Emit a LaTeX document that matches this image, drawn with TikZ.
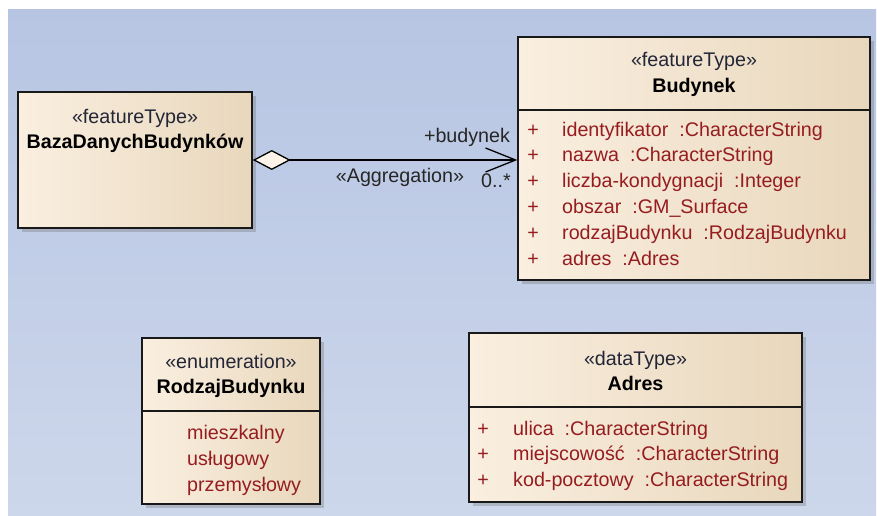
\documentclass[tikz,border=0pt]{standalone}
\usepackage{fontspec}
\setmainfont{Liberation Sans}
\usetikzlibrary{arrows.meta,shadows}

\definecolor{tlotop}{RGB}{183,197,227}
\definecolor{tlobot}{RGB}{205,215,235}
\definecolor{klasaL}{RGB}{250,239,224}
\definecolor{klasaM}{RGB}{252,244,232}
\definecolor{klasaR}{RGB}{232,215,188}
\definecolor{atrcol}{RGB}{150,28,32}
\definecolor{stereocol}{RGB}{35,38,55}
\newcommand\rozmiar{\fontsize{19.7}{23}\selectfont}

\tikzset{
  klasa/.style={draw=black!90, line width=1.5pt, inner sep=0pt,
    left color=klasaL, middle color=klasaM, right color=klasaR,
    drop shadow={shadow xshift=4pt, shadow yshift=-4pt, fill=black!60, opacity=0.3}},
  stereo/.style={anchor=base, text=stereocol, inner sep=0pt, font=\rozmiar},
  nazwa/.style={anchor=base, inner sep=0pt, font=\rozmiar\bfseries},
  atr/.style={anchor=base west, text=atrcol, inner sep=0pt, font=\rozmiar},
  plus/.style={anchor=base, text=atrcol, inner sep=0pt, font=\rozmiar},
  opis/.style={anchor=base, text=black!85, inner sep=0pt, font=\rozmiar},
  sep/.style={draw=black!90, line width=1.2pt},
  agregacja/.style={line width=1.3pt,
    {Diamond[length=38pt,width=20pt,fill=klasaM]}-{Straight Barb[length=30pt,width=24pt]}},
}

\begin{document}
\begin{tikzpicture}[x=1pt,y=-1pt]
  \useasboundingbox (0,0) rectangle (877,516);
  \fill[top color=tlotop, bottom color=tlobot] (8,10) rectangle (876,516);

  % klasy
  \node[klasa, minimum width=234pt, minimum height=136pt] (baza) at (135,160) {};
  \node[klasa, minimum width=352pt, minimum height=243pt] (budynek) at (694,158.5) {};
  \node[klasa, minimum width=178pt, minimum height=166pt] (rodzaj) at (231,421) {};
  \node[klasa, minimum width=333pt, minimum height=169pt] (adres) at (635.5,417.5) {};
  \draw[sep] (budynek.west |- 0,110) -- (budynek.east |- 0,110);
  \draw[sep] (rodzaj.west |- 0,411) -- (rodzaj.east |- 0,411);
  \draw[sep] (adres.west |- 0,407) -- (adres.east |- 0,407);

  \node[stereo] (bazaS) at (135,123) {«featureType»};
  \node[nazwa] (bazaN) at (135,148) {BazaDanychBudynków};
  \node[stereo] (budS) at (694,67) {«featureType»};
  \node[nazwa] (budN) at (694,93) {Budynek};
  \node[stereo] (rodS) at (231,368) {«enumeration»};
  \node[nazwa] (rodN) at (231,393) {RodzajBudynku};
  \node[stereo] (adrS) at (635.5,365) {«dataType»};
  \node[nazwa] (adrN) at (635.5,390) {Adres};

  \def\atrbud{identyfikator/CharacterString, nazwa/CharacterString, liczba-kondygnacji/Integer,
    obszar/GM\_Surface, rodzajBudynku/RodzajBudynku, adres/Adres}
  %            0                1                  2               3         4             5
  \foreach \nz/\typ [count=\i from 0] in \atrbud {
    \node[plus] (bp\i) at (533,136+25.8*\i) {+};
    \node[atr] (ba\i) at (562,136+25.8*\i) {\nz\hspace{11pt}:\typ};
  }
  \foreach \w [count=\i from 0] in {mieszkalny, usługowy, przemysłowy}
    \node[atr] (rw\i) at (187,439+26*\i) {\w};
  \foreach \nz/\typ [count=\i from 0] in {ulica/CharacterString, miejscowość/CharacterString, kod-pocztowy/CharacterString} {
    \node[plus] (ap\i) at (483,435+25.5*\i) {+};
    \node[atr] (aa\i) at (513,435+25.5*\i) {\nz\hspace{11pt}:\typ};
  }

  % asocjacja
  \draw[agregacja] (baza.east) -- (baza.east -| budynek.west);
  \node[opis] (rola) at (467,142) {+budynek};
  \node[opis] (typ) at (400,182) {«Aggregation»};
  \node[opis] (kr) at (496,187) {0..*};
\end{tikzpicture}
\end{document}
